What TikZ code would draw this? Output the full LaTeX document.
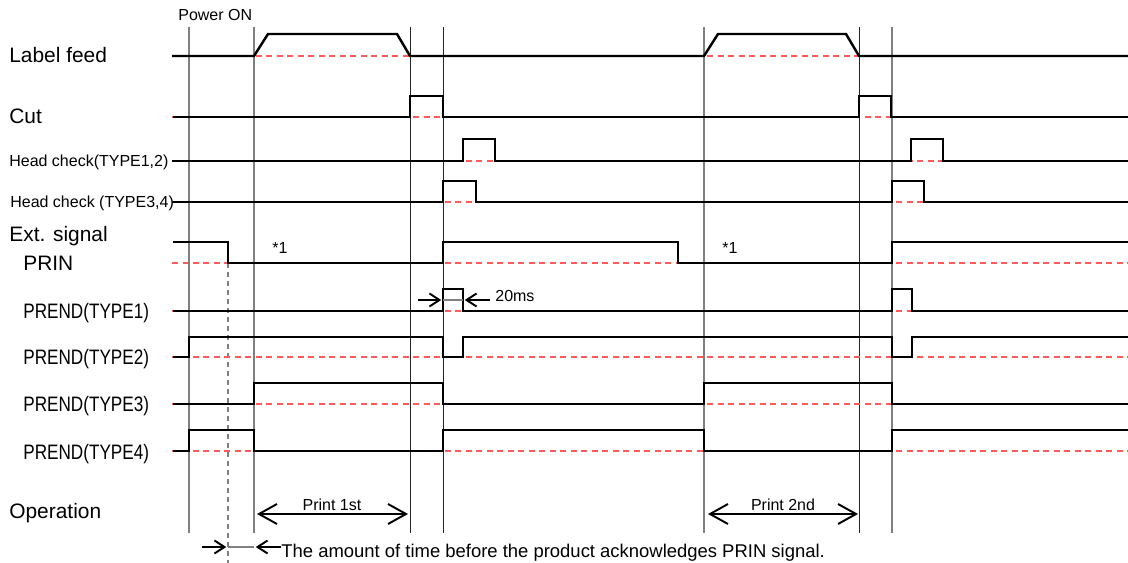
\documentclass[tikz,border=0pt]{standalone}
\usepackage{fontspec}
\setmainfont{Liberation Sans}
\newfontfamily\narrowfont[FakeStretch=0.82]{Liberation Sans}
\usepackage{tikz}
\usetikzlibrary{arrows.meta}

\begin{document}
\begin{tikzpicture}[
    x=0.02cm, y=-0.02cm,
    lbl/.style={anchor=base west, inner sep=0pt, font=\fontsize{11.9}{14}\selectfont},
    nlbl/.style={anchor=base west, inner sep=0pt, font=\narrowfont\fontsize{11.9}{14}\selectfont},
    sml/.style={inner sep=0pt, font=\fontsize{9.1}{11}\selectfont},
    sig/.style={line width=1.4pt},
    base/.style={red!65, dash pattern=on 1.2mm off 0.9mm, line width=0.8pt},
    vline/.style={gray, line width=0.85pt},
    vthin/.style={black!85, line width=0.55pt},
    dim/.style={{Straight Barb[length=3.6mm,width=4mm]}-{Straight Barb[length=3.6mm,width=4mm]}, line width=1.1pt},
    gap/.style={-{Straight Barb[length=2mm,width=2.6mm]}, line width=1.1pt},
  ]
    \useasboundingbox (0,0) rectangle (1128,563);

    % timing marks
    \foreach \x in {189,254,704,892}
      \draw[vline] (\x,27) -- (\x,533);
    \foreach \x in {410,443,859}
      \draw[vthin] (\x,27) -- (\x,533);
    \draw[gray, line width=0.6pt, dash pattern=on 1mm off 0.8mm] (228,263) -- (228,563);

    % zero levels
    \foreach \y in {56,117,161,202,263,311,357,404,451}
      \draw[base] (172,\y) -- (1128,\y);

    % row labels
    \node[lbl] (lfeed) at (9,63)  {Label feed};
    \node[lbl] (cut)   at (9,124) {Cut};
    \node[sml, anchor=base west] (hc12) at (9,167)  {Head check(TYPE1,2)};
    \node[sml, anchor=base west] (hc34) at (10,208) {Head check (TYPE3,4)};
    \node[lbl] (ext)   at (9,242)  {Ext. signal};
    \node[lbl] (prin)  at (23,271) {PRIN};
    \node[nlbl] (pr1)  at (23,319) {PREND(TYPE1)};
    \node[nlbl] (pr2)  at (23,365) {PREND(TYPE2)};
    \node[nlbl] (pr3)  at (23,412) {PREND(TYPE3)};
    \node[nlbl] (pr4)  at (23,459) {PREND(TYPE4)};
    \node[lbl] (oper)  at (9,518)  {Operation};
    \node[sml, anchor=base west] (pon) at (178,21) {Power ON};

    % signals
    \draw[sig] (172,56) -- (254,56) -- (268,34) -- (397,34) -- (410,56) -- (704,56)
      -- (718,34) -- (846,34) -- (859,56) -- (1128,56);
    \draw[sig] (173,117) -- (410,117) -- (410,96) -- (443,96) -- (443,117) -- (859,117)
      -- (859,96) -- (891,96) -- (891,117) -- (1128,117);
    \draw[sig] (172,161) -- (463,161) -- (463,139) -- (495,139) -- (495,161) -- (911,161)
      -- (911,139) -- (943,139) -- (943,161) -- (1128,161);
    \draw[sig] (172,202) -- (443,202) -- (443,181) -- (476,181) -- (476,202) -- (892,202)
      -- (892,181) -- (924,181) -- (924,202) -- (1128,202);
    \draw[sig] (173,242) -- (228,242) -- (228,263) -- (443,263) -- (443,242) -- (678,242)
      -- (678,263) -- (892,263) -- (892,242) -- (1128,242);
    \draw[sig] (173,311) -- (443,311) -- (443,289) -- (463,289) -- (463,311) -- (892,311)
      -- (892,289) -- (912,289) -- (912,311) -- (1128,311);
    \draw[sig] (173,357) -- (189,357) -- (189,337) -- (443,337) -- (443,357) -- (463,357)
      -- (463,337) -- (892,337) -- (892,357) -- (912,357) -- (912,337) -- (1128,337);
    \draw[sig] (173,404) -- (254,404) -- (254,383) -- (443,383) -- (443,404) -- (704,404)
      -- (704,383) -- (892,383) -- (892,404) -- (1128,404);
    \draw[sig] (173,451) -- (189,451) -- (189,430) -- (254,430) -- (254,451) -- (443,451)
      -- (443,430) -- (704,430) -- (704,451) -- (892,451) -- (892,430) -- (1128,430);

    \node[sml, anchor=base west] (n1a) at (272,254) {*1};
    \node[sml, anchor=base west] (n1b) at (722,254) {*1};

    % 20ms pulse width
    \coordinate (msa) at (443,300);
    \coordinate (msb) at (463,300);
    \draw[gray, line width=0.6pt] (msa) -- (msb);
    \draw[gap] (418,300) -- ([xshift=-1pt]msa);
    \draw[gap] (490,300) -- ([xshift=1pt]msb);
    \node[sml, anchor=base west] (ms) at (495,302) {20ms};

    % print periods
    \coordinate (p1a) at (257,514);
    \coordinate (p1b) at (408,514);
    \coordinate (p2a) at (708,514);
    \coordinate (p2b) at (858,514);
    \draw[dim] (p1a) -- (p1b);
    \draw[dim] (p2a) -- (p2b);
    \node[sml, anchor=base] (st1) at (332,510) {Print 1st};
    \node[sml, anchor=base] (st2) at (783,510) {Print 2nd};

    % acknowledge delay
    \coordinate (aka) at (228,547);
    \coordinate (akb) at (254,547);
    \draw[gray, line width=0.6pt] (aka) -- (akb);
    \draw[gap] (202,547) -- ([xshift=-1pt]aka);
    \node[anchor=base west, inner sep=0pt, font=\fontsize{10.5}{12}\selectfont] (note) at (281,557)
      {The amount of time before the product acknowledges PRIN signal.};
    \draw[gap] (note.west |- akb) -- ([xshift=1pt]akb);
  \end{tikzpicture}
\end{document}
